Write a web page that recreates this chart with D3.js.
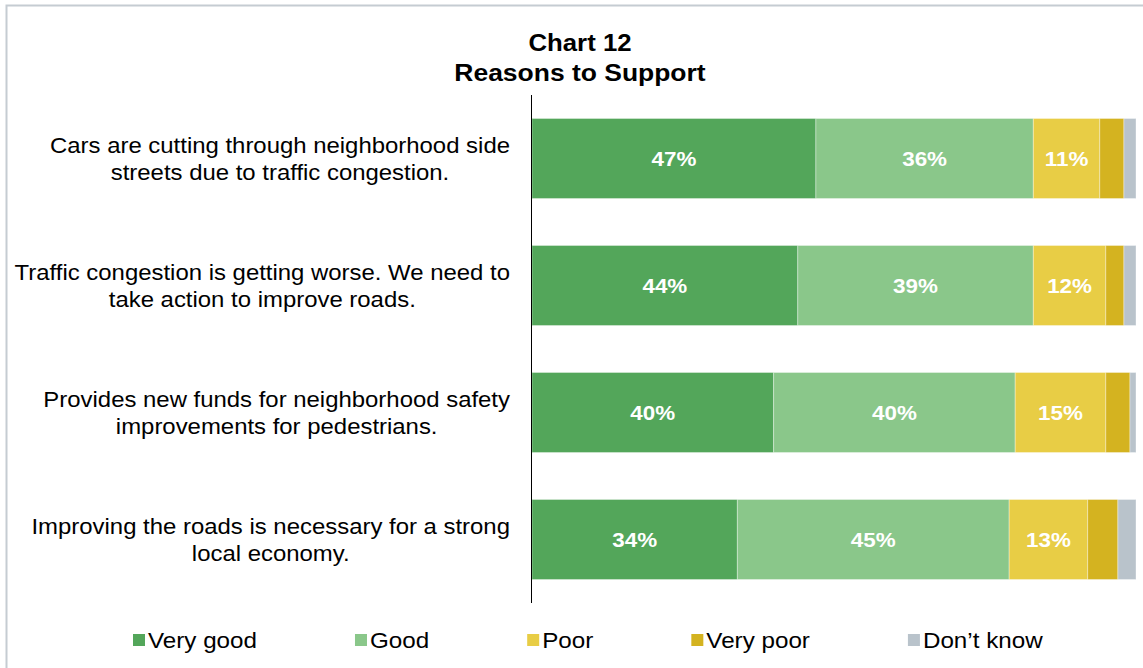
<!DOCTYPE html>
<html>
<head>
<meta charset="utf-8">
<script src="https://cdn.jsdelivr.net/npm/d3@7"></script>
<style>
  body { margin: 0; background: #fff; }
  svg { display: block; font-family: "Liberation Sans", Arial, sans-serif; }
</style>
</head>
<body>
<div id="chart"></div>
<script>
// data
const categories = [
  "Cars are cutting through neighborhood side|streets due to traffic congestion.",
  "Traffic congestion is getting worse. We need to|take action to improve roads.",
  "Provides new funds for neighborhood safety|improvements for pedestrians.",
  "Improving the roads is necessary for a strong|local economy."
];
const seriesNames = ["Very good", "Good", "Poor", "Very poor", "Don\u2019t know"];
const veryGood = [47, 44, 40, 34];
const good = [36, 39, 40, 45];
const poor = [11, 12, 15, 13];
const veryPoor = [4, 3, 4, 5];
const dontKnow = [2, 2, 1, 3];
const colors = ["#53a65a", "#8ac78a", "#e8cd45", "#d4b320", "#b9c3cb"];
const labelled = ["Very good", "Good", "Poor"];

const width = 1143, height = 668;

// the source text is a bit wider than the font, so stretch it
function stretch(sel, sx) {
  sel.each(function() {
    const w = this.getComputedTextLength();
    d3.select(this).attr("textLength", w * sx).attr("lengthAdjust", "spacingAndGlyphs");
  });
}

const svg = d3.select("#chart").append("svg")
  .attr("width", width)
  .attr("height", height);

// outer frame
svg.append("rect")
  .attr("x", 6.5).attr("y", 5.5)
  .attr("width", width + 10).attr("height", height + 10)
  .attr("fill", "none")
  .attr("stroke", "#c5ccd2")
  .attr("stroke-width", 2);

// title
svg.append("text")
  .attr("x", 580).attr("y", 51)
  .attr("text-anchor", "middle")
  .style("font-weight", "bold").style("font-size", "23px")
  .text("Chart 12")
  .call(stretch, 1.12);
svg.append("text")
  .attr("x", 580).attr("y", 81)
  .attr("text-anchor", "middle")
  .style("font-weight", "bold").style("font-size", "23px")
  .text("Reasons to Support")
  .call(stretch, 1.15);

const rows = categories.map((c, i) => ({
  cat: c,
  "Very good": veryGood[i],
  "Good": good[i],
  "Poor": poor[i],
  "Very poor": veryPoor[i],
  "Don\u2019t know": dontKnow[i]
}));

const x = d3.scaleLinear().domain([0, 100]).range([532, 1136]);
const y = d3.scaleBand()
  .domain(categories)
  .range([95, 603])
  .paddingInner(0.37)
  .paddingOuter(0.185);
const color = d3.scaleOrdinal().domain(seriesNames).range(colors);

const stack = d3.stack().keys(seriesNames)(rows);

const layers = svg.selectAll(".layer")
  .data(stack)
  .enter().append("g")
  .attr("class", "layer")
  .attr("fill", d => color(d.key));

layers.selectAll("rect")
  .data(d => d)
  .enter().append("rect")
  .attr("x", d => x(d[0]))
  .attr("y", d => y(d.data.cat))
  .attr("width", d => x(d[1]) - x(d[0]))
  .attr("height", y.bandwidth())
  .attr("stroke", "#ffffff")
  .attr("stroke-opacity", 0.35)
  .attr("stroke-width", 1);

// value labels
layers.filter(d => labelled.includes(d.key))
  .selectAll("text")
  .data(d => d)
  .enter().append("text")
  .attr("x", d => (x(d[0]) + x(d[1])) / 2)
  .attr("y", d => y(d.data.cat) + y.bandwidth() / 2)
  .attr("dy", "0.36em")
  .attr("text-anchor", "middle")
  .attr("fill", "#fff")
  .style("font-weight", "bold")
  .style("font-size", "20px")
  .text(d => (d[1] - d[0]) + "%")
  .call(stretch, 1.12);

// category axis
const yAxis = svg.append("g")
  .attr("transform", "translate(531.5,0)")
  .call(d3.axisLeft(y).tickSize(0).tickFormat(""));
yAxis.select(".domain")
  .attr("d", "M0,95V603")
  .attr("stroke", "#000");

// wrapped labels: lines centred on each other, block ends at x=510
const catLabels = svg.selectAll(".cat")
  .data(categories)
  .enter().append("text")
  .attr("class", "cat")
  .attr("text-anchor", "middle")
  .style("font-size", "22px")
  .attr("fill", "#000");
catLabels.each(function(d) {
  const lines = d.split("|");
  const cy = y(d) + y.bandwidth() / 2;
  const t = d3.select(this);
  const spans = lines.map((l, j) => t.append("tspan")
    .attr("y", cy + (j - (lines.length - 1) / 2) * 27)
    .attr("dy", "0.35em")
    .text(l)
    .call(stretch, 1.087));
  const maxW = d3.max(spans, s => +s.attr("textLength"));
  spans.forEach(s => s.attr("x", 510 - maxW / 2));
});

// legend
const legend = svg.append("g").attr("class", "legend");
let lx = 133;
seriesNames.forEach(name => {
  const g = legend.append("g").attr("transform", `translate(${lx},0)`);
  g.append("rect")
    .attr("x", 0).attr("y", 634)
    .attr("width", 12).attr("height", 12)
    .attr("fill", color(name));
  const t = g.append("text")
    .attr("x", 15).attr("y", 648)
    .style("font-size", "22px")
    .text(name)
    .call(stretch, 1.1);
  lx += 15 + t.node().getComputedTextLength() + 98;
});
</script>
</body>
</html>
